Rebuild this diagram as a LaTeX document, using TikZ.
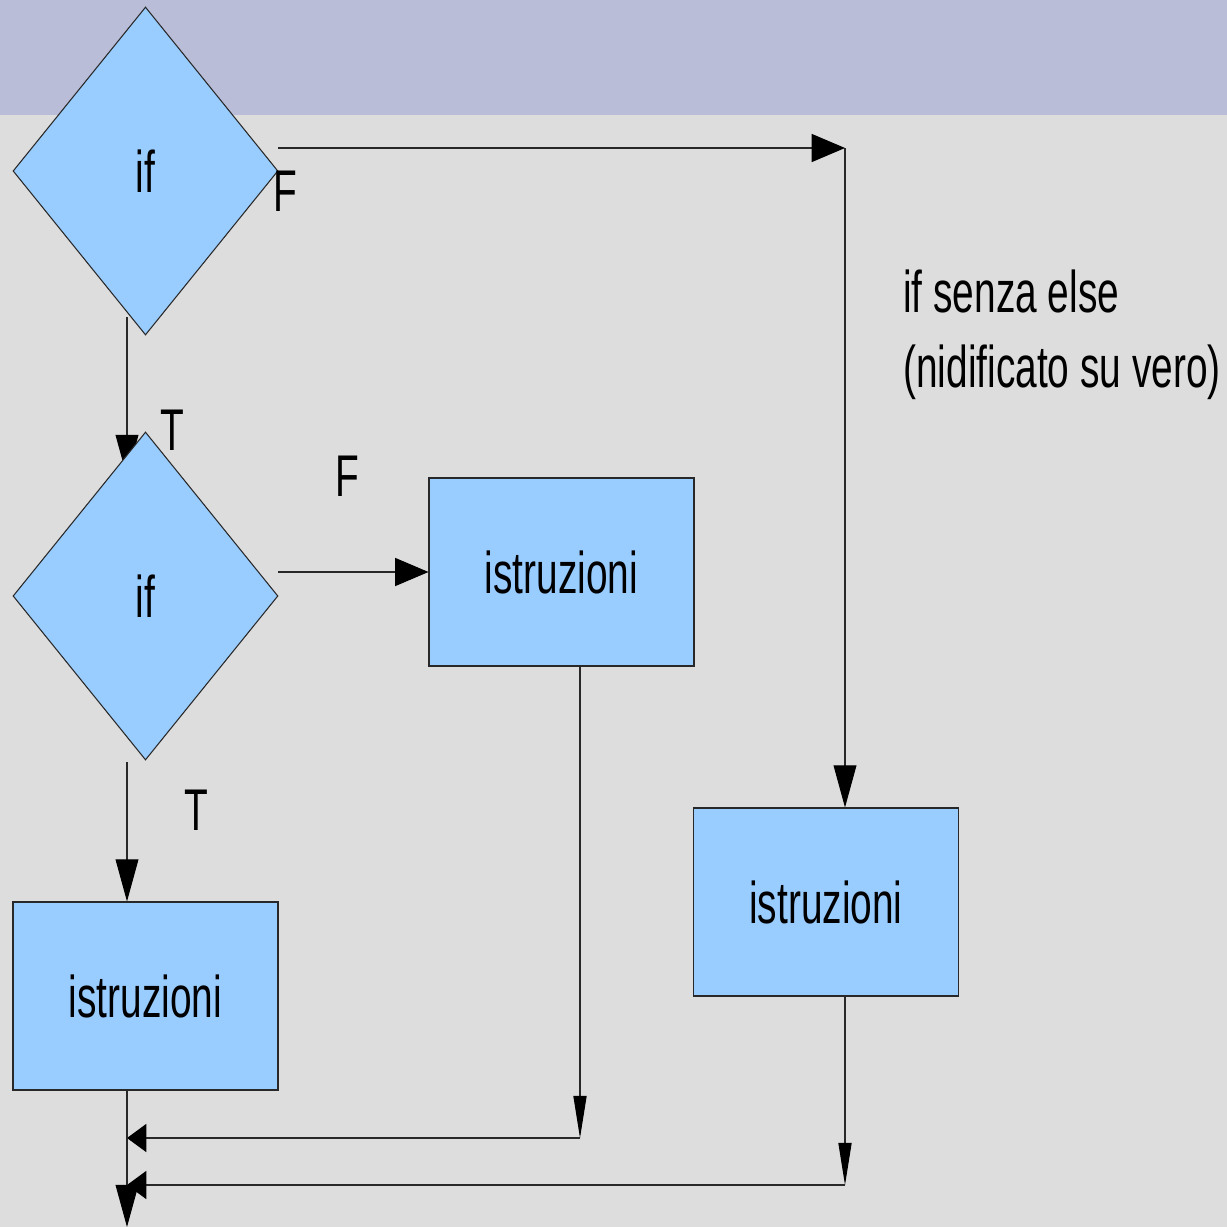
\documentclass[tikz,border=0pt]{standalone}
\usepackage{fontspec}
\setmainfont{Liberation Sans}[FakeStretch=0.66]
\usepackage{tikz}
\usetikzlibrary{shapes.geometric,arrows.meta}
\usepackage{xcolor}
\definecolor{boxblue}{RGB}{153,204,255}
\definecolor{bandtop}{RGB}{185,189,216}
\definecolor{pagegray}{RGB}{221,221,221}
\definecolor{edge}{RGB}{40,40,40}

\tikzset{
  txt/.style={font=\fontsize{33.5}{40}\selectfont, inner sep=0pt},
  test/.style={diamond, draw=edge, fill=boxblue, line width=0.6pt, txt,
    minimum width=265*0.02cm, minimum height=328*0.02cm},
  block/.style={rectangle, draw=edge, fill=boxblue, line width=0.6pt, txt,
    minimum width=265*0.02cm, minimum height=188*0.02cm},
  flow/.style={draw=edge, line width=0.6pt},
  tipR/.style={flow, -{Triangle[length=19pt,width=16pt,color=black]}},
  tipD/.style={flow, -{Triangle[length=24pt,width=13pt,color=black]}},
  tipN/.style={flow, -{Triangle[length=24pt,width=7.5pt,color=black]}},
  tipL/.style={flow, -{Triangle[length=11pt,width=16pt,color=black]}},
}

\begin{document}
\begin{tikzpicture}[x=0.02cm, y=-0.02cm]
% page: band on top, gray below
\useasboundingbox (0,0) rectangle (1227,1227);
\fill[pagegray] (0,0) rectangle (1227,1227);
\fill[bandtop] (0,0) rectangle (1227,115);

% free ends of the connectors
\coordinate (d1out) at (127,317);
\coordinate (d1f) at (278,148);
\coordinate (c1) at (845,148);
\coordinate (d2in) at (127,477);
\coordinate (d2f) at (278,572);
\coordinate (d2out) at (127,762);
\coordinate (j1) at (580,1138);
\coordinate (m1) at (127,1138);
\coordinate (j2) at (845,1185);
\coordinate (m2) at (127,1185);
\coordinate (exit) at (127,1227);

% true branch of the outer if (tip hidden under the inner if)
\draw[tipD] (d1out) -- (d2in);

% tests and blocks
\node[test] (if1) at (145.5,171) {if};
\node[test] (if2) at (145.5,596) {if};
\node[block] (istrA) at (145.5,996) {istruzioni};
\node[block] (istrB) at (561.5,572) {istruzioni};
\node[block] (istrC) at (826,902) {istruzioni};

% outer false: round to the right
\draw[tipR] (d1f) -- (c1);
\draw[tipD] (c1) -- (istrC.north -| c1);
% inner if
\draw[tipR] (d2f) -- (istrB.west);
\draw[tipD] (d2out) -- (istrA.north -| d2out);
% joins at the bottom
\draw[tipN] (istrB.south -| j1) -- (j1);
\draw[tipL] (j1) -- (m1);
\draw[tipN] (istrC.south -| j2) -- (j2);
\draw[tipL] (j2) -- (m2);
\draw[tipD] (istrA.south -| exit) -- (exit);

% branch labels
\node[txt] (f1) at (285,191) {F};
\node[txt] (t1) at (172,430) {T};
\node[txt] (f2) at (347,476) {F};
\node[txt] (t2) at (196,810) {T};

% note
\node[txt, anchor=base west] (note1) at (903,312) {if senza else};
\node[txt, anchor=base west] (note2) at (903,387) {(nidificato su vero)};
\end{tikzpicture}
\end{document}
